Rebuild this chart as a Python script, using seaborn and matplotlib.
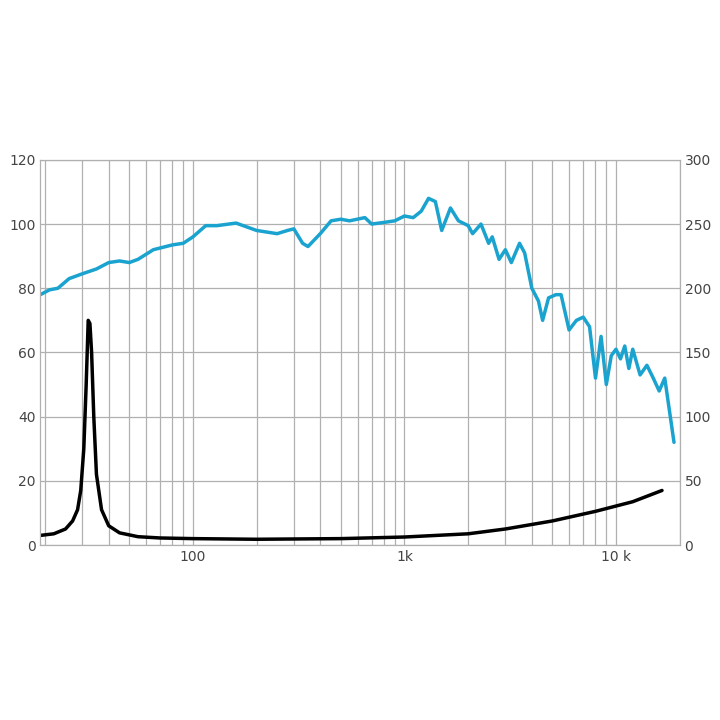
import numpy as np
import matplotlib
matplotlib.use("Agg")
import matplotlib.pyplot as plt
import seaborn as sns
from matplotlib.ticker import FixedLocator, NullFormatter, LogLocator

spl_freq = [19,21,23,26,30,35,40,45,50,55,65,80,90,100,115,130,160,200,250,280,300,330,350,400,450,500,550,650,700,800,900,1000,1100,1200,1300,1400,1500,1650,1800,2000,2100,2300,2500,2600,2800,3000,3200,3500,3700,4000,4300,4500,4800,5200,5500,6000,6500,7000,7500,8000,8500,9000,9500,10000,10500,11000,11500,12000,13000,14000,15000,16000,17000,18800]
spl_db = [78,79.5,80,83,84.5,86,88,88.5,88,89,92,93.5,94,96,99.5,99.5,100.3,98,97,98,98.5,94,93,97,101,101.5,101,102,100,100.5,101,102.5,102,104,108,107,98,105,101,99.5,97,100,94,96,89,92,88,94,91,80,76,70,77,78,78,67,70,71,68,52,65,50,59,61,58,62,55,61,53,56,52,48,52,32]
imp_freq = [19,22,25,27,28.5,29.5,30.5,31.3,32,32.6,33.2,34,35,37,40,45,55,70,100,200,500,1000,2000,3000,5000,8000,12000,16500]
imp_val = [3,3.5,5,7.5,11,17,30,50,70,69,60,40,22,11,6,3.8,2.6,2.2,2,1.8,2,2.5,3.5,5,7.5,10.5,13.5,17]

sns.set_style("white")
fig = plt.figure(figsize=(7.2, 7.2), dpi=100)
ax = fig.add_axes([0.056, 0.243, 0.888, 0.535])
sns.lineplot(x=spl_freq, y=spl_db, ax=ax, color="#1ba3d0", linewidth=2.5)
sns.lineplot(x=imp_freq, y=imp_val, ax=ax, color="black", linewidth=2.5)
ax.set_xscale("log")
ax.set_xlim(19, 20000)
ax.set_ylim(0, 120)
ax.set_yticks(range(0, 121, 20))
ax.xaxis.set_major_locator(FixedLocator([100, 1000, 10000]))
ax.set_xticklabels(["100", "1k", "10 k"])
ax.xaxis.set_minor_locator(LogLocator(base=10, subs=np.arange(2, 10)))
ax.xaxis.set_minor_formatter(NullFormatter())
ax.grid(True, which="both", color="#b0b0b0", linewidth=0.9)
ax.tick_params(length=0, labelsize=10, colors="#444444", which="both")
for s in ax.spines.values():
    s.set_color("#b0b0b0")
ax2 = ax.twinx()
ax2.set_ylim(0, 300)
ax2.set_yticks(range(0, 301, 50))
ax2.tick_params(length=0, labelsize=10, colors="#444444")
for s in ax2.spines.values():
    s.set_color("#b0b0b0")
fig.savefig("out.png", dpi=100)
